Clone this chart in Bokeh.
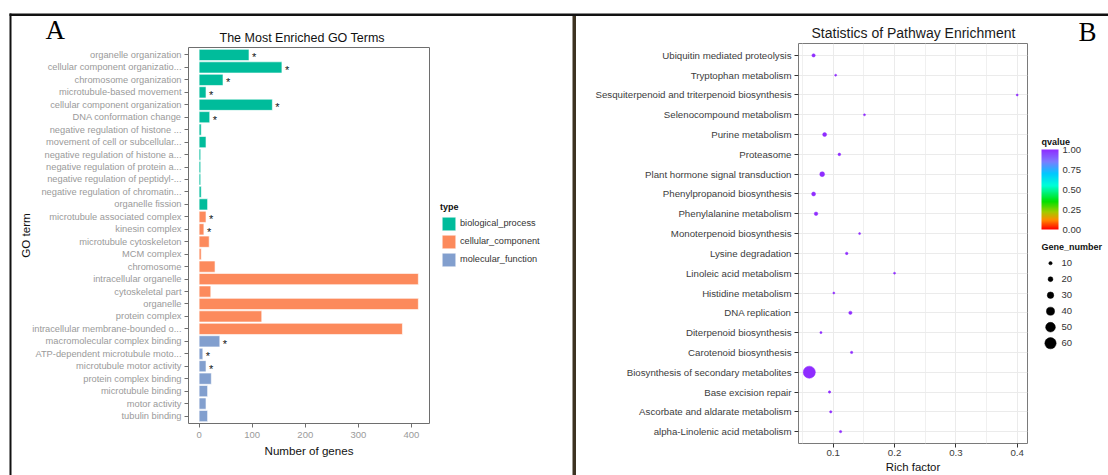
from bokeh.plotting import figure
from bokeh.models import (FactorRange, Range1d, Legend, LegendItem, ColumnDataSource,
                          LinearColorMapper, ColorBar, FixedTicker, PrintfTickFormatter)
from bokeh.embed import file_html
from bokeh.resources import INLINE
from bokeh.core.properties import value
import numpy as np

# ---------------- data: panel A ----------------
go_terms = [
    "organelle organization", "cellular component organizatio...", "chromosome organization",
    "microtubule-based movement", "cellular component organization", "DNA conformation change",
    "negative regulation of histone ...", "movement of cell or subcellular...",
    "negative regulation of histone a...", "negative regulation of protein a...",
    "negative regulation of peptidyl-...", "negative regulation of chromatin...",
    "organelle fission", "microtubule associated complex", "kinesin complex",
    "microtubule cytoskeleton", "MCM complex", "chromosome", "intracellular organelle",
    "cytoskeletal part", "organelle", "protein complex", "intracellular membrane-bounded o...",
    "macromolecular complex binding", "ATP-dependent microtubule moto...",
    "microtubule motor activity", "protein complex binding", "microtubule binding",
    "motor activity", "tubulin binding",
]
go_counts = [94, 156, 45, 13, 138, 20, 4, 13, 3, 3, 3, 4, 16,
             13, 9, 19, 4, 30, 413, 22, 413, 118, 383,
             39, 7, 13, 23, 16, 13, 16]
go_types = (["biological_process"] * 13 + ["cellular_component"] * 10 +
            ["molecular_function"] * 7)
go_starred = [True, True, True, True, True, True, False, False, False, False, False, False, False,
              True, True, False, False, False, False, False, False, False, False,
              True, True, True, False, False, False, False]
type_names = ["biological_process", "cellular_component", "molecular_function"]
type_colors = ["#00BC9B", "#FC8A5C", "#829FCE"]

# ---------------- data: panel B ----------------
pathways = [
    "Ubiquitin mediated proteolysis", "Tryptophan metabolism",
    "Sesquiterpenoid and triterpenoid biosynthesis", "Selenocompound metabolism",
    "Purine metabolism", "Proteasome", "Plant hormone signal transduction",
    "Phenylpropanoid biosynthesis", "Phenylalanine metabolism", "Monoterpenoid biosynthesis",
    "Lysine degradation", "Linoleic acid metabolism", "Histidine metabolism", "DNA replication",
    "Diterpenoid biosynthesis", "Carotenoid biosynthesis", "Biosynthesis of secondary metabolites",
    "Base excision repair", "Ascorbate and aldarate metabolism", "alpha-Linolenic acid metabolism",
]
rich_factor = [0.068, 0.104, 0.400, 0.151, 0.086, 0.110, 0.082, 0.068, 0.072, 0.143,
               0.122, 0.200, 0.101, 0.128, 0.080, 0.130, 0.061, 0.094, 0.096, 0.112]
gene_number = [10, 2, 2, 2, 14, 6, 20, 14, 12, 2, 5, 2, 2, 10, 3, 4, 65, 4, 4, 4]
qvalue = [1.0, 1.0, 1.0, 1.0, 1.0, 1.0, 1.0, 1.0, 1.0, 1.0,
          1.0, 1.0, 1.0, 1.0, 1.0, 1.0, 1.0, 1.0, 1.0, 1.0]
size_breaks = [10, 20, 30, 40, 50, 60]
q_ticks = [0.0, 0.25, 0.5, 0.75, 1.0]

FONT = "Liberation Sans"
W, H = 1108, 475


def dot_size(n):
    return 1.7 + 0.16 * n


# rainbow-like palette for qvalue
stops = [(0.0, "#FF0000"), (0.12, "#FF8C00"), (0.22, "#A0CC00"), (0.35, "#00E000"),
         (0.55, "#00FFD8"), (0.70, "#00C8FF"), (0.85, "#7C7CFF"), (1.0, "#8F2CFF")]


def _rgb(h):
    return np.array([int(h[i:i + 2], 16) for i in (1, 3, 5)], dtype=float)


palette = []
for t in np.linspace(0, 1, 256):
    for (a, ca), (b, cb) in zip(stops[:-1], stops[1:]):
        if a <= t <= b:
            f = (t - a) / (b - a)
            c = _rgb(ca) * (1 - f) + _rgb(cb) * f
            palette.append("#%02x%02x%02x" % tuple(int(round(v)) for v in c))
            break


def place(p, left):
    p.styles = {"position": "absolute", "left": "%dpx" % left, "top": "0px"}


# ================= Panel A =================
p1 = figure(width=572, height=H, output_backend="svg", toolbar_location=None,
            x_range=Range1d(-20, 434),
            y_range=FactorRange(factors=go_terms[::-1], range_padding=0.1,
                                range_padding_units="absolute"),
            min_border_left=188, min_border_right=143, min_border_top=47,
            min_border_bottom=52)
p1.title.text = "The Most Enriched GO Terms"
p1.title.align = "left"
p1.title.offset = 31
p1.title.text_font = FONT
p1.title.text_font_size = "12.5px"
p1.title.text_font_style = "normal"
p1.title.text_color = "#111111"
p1.title.standoff = 5

for tname, tcol in zip(type_names, type_colors):
    idx = [i for i, t in enumerate(go_types) if t == tname]
    src = ColumnDataSource(dict(y=[go_terms[i] for i in idx], x=[go_counts[i] for i in idx]))
    p1.hbar(y="y", right="x", left=0, height=0.9, source=src, fill_color=tcol,
            line_color="white", line_alpha=0.6, line_width=1)

star_idx = [i for i, s in enumerate(go_starred) if s]
star_src = ColumnDataSource(dict(x=[go_counts[i] for i in star_idx],
                                 y=[go_terms[i] for i in star_idx],
                                 t=["*"] * len(star_idx)))
p1.text(x="x", y="y", text="t", source=star_src, x_offset=3, y_offset=2.5,
        text_font=value(FONT), text_font_size="11px", text_baseline="middle",
        text_color="#111111")

p1.xgrid.visible = False
p1.ygrid.visible = False
p1.outline_line_color = "#6E6E6E"
p1.outline_line_width = 1
p1.xaxis.ticker = FixedTicker(ticks=[0, 100, 200, 300, 400])
p1.xaxis.axis_label = "Number of genes"
p1.yaxis.axis_label = "GO term"
for ax in (p1.xaxis, p1.yaxis):
    ax.axis_line_color = None
    ax.major_tick_line_color = "#6E6E6E"
    ax.major_tick_in = 0
    ax.major_tick_out = 4
    ax.minor_tick_line_color = None
    ax.major_label_text_font = FONT
    ax.major_label_text_color = "#9A9A9A"
    ax.axis_label_text_font = FONT
    ax.axis_label_text_font_style = "normal"
    ax.axis_label_text_color = "#111111"
    ax.axis_label_text_font_size = "11.6px"
p1.xaxis.major_label_text_font_size = "9.5px"
p1.yaxis.major_label_text_font_size = "9.3px"
p1.xaxis.major_label_standoff = 4
p1.yaxis.major_label_standoff = 3
p1.xaxis.axis_label_standoff = 3
p1.yaxis.axis_label_standoff = -3
place(p1, 0)

# ================= Panel B =================
p2 = figure(width=W - 572, height=H, output_backend="svg", toolbar_location=None,
            x_range=Range1d(0.0434, 0.4168),
            y_range=FactorRange(factors=pathways[::-1], range_padding=0.1,
                                range_padding_units="absolute"),
            min_border_left=226, min_border_right=81, min_border_top=43,
            min_border_bottom=30)
p2.title.text = "Statistics of Pathway Enrichment"
p2.title.align = "left"
p2.title.offset = 13
p2.title.text_font = FONT
p2.title.text_font_size = "14px"
p2.title.text_font_style = "normal"
p2.title.text_color = "#1A1A1A"
p2.title.standoff = 5

mapper = LinearColorMapper(palette=palette, low=0, high=1)
src2 = ColumnDataSource(dict(x=rich_factor, y=pathways, q=qvalue,
                             s=[dot_size(n) for n in gene_number]))
p2.scatter(x="x", y="y", size="s", source=src2,
           fill_color={"field": "q", "transform": mapper},
           line_color={"field": "q", "transform": mapper}, line_width=0.5)

p2.xaxis.ticker = FixedTicker(ticks=[0.1, 0.2, 0.3, 0.4],
                              minor_ticks=[0.05, 0.15, 0.25, 0.35])
p2.xgrid.grid_line_color = "#EBEBEB"
p2.xgrid.minor_grid_line_color = "#F0F0F0"
p2.ygrid.grid_line_color = "#EBEBEB"
p2.outline_line_color = "#7A7A7A"
p2.outline_line_width = 1
p2.xaxis.axis_label = "Rich factor"
for ax in (p2.xaxis, p2.yaxis):
    ax.axis_line_color = None
    ax.major_tick_line_color = "#333333"
    ax.major_tick_in = 0
    ax.major_tick_out = 4
    ax.minor_tick_line_color = None
    ax.major_label_text_font = FONT
    ax.major_label_text_color = "#3C3C3C"
    ax.axis_label_text_font = FONT
    ax.axis_label_text_font_style = "normal"
    ax.axis_label_text_color = "#111111"
    ax.axis_label_text_font_size = "11.4px"
p2.xaxis.major_label_text_font_size = "9.7px"
p2.yaxis.major_label_text_font_size = "9.7px"
p2.xaxis.major_label_standoff = 2
p2.yaxis.major_label_standoff = 3
p2.xaxis.axis_label_standoff = 2
place(p2, 572)

# ================= overlay: frame lines, panel letters, legends =================
ov = figure(width=W, height=H, output_backend="svg", toolbar_location=None,
            x_range=Range1d(0, W), y_range=Range1d(H, 0),
            x_axis_location=None, y_axis_location=None,
            min_border_left=0, min_border_right=0, min_border_top=0, min_border_bottom=0)
ov.grid.visible = False
ov.outline_line_color = None
ov.background_fill_color = None
ov.border_fill_color = None
place(ov, 0)

# frame lines of the composite figure
ov.quad(left=[9, 9], right=[W, 11], top=[13, 13], bottom=[15.5, H],
        fill_color="#111111", line_color=None)
ov.quad(left=[572], right=[575.5], top=[15.5], bottom=[H],
        fill_color="#3D3322", line_color=None)

# panel letters
ov.text(x=[45, 1078], y=[29.5, 31.7], text=["A", "B"], text_font=value("Liberation Serif"),
        text_font_size="27px", text_baseline="alphabetic", text_color="#000000")

# legend for GO term types: keys come from hidden proxy renderers styled like the bars
items = []
for tname, tcol in zip(type_names, type_colors):
    r = ov.hbar(y=[0], right=[0], left=0, height=0, fill_color=tcol,
                line_color="white", line_alpha=0.6, line_width=1, visible=False)
    items.append(LegendItem(label=tname, renderers=[r]))
leg = Legend(items=items, location=(440, H - 267.5), title="type",
             title_text_font=FONT, title_text_font_size="9px", title_text_font_style="bold",
             title_text_color="#111111", title_standoff=3,
             label_text_font=FONT, label_text_font_size="9.2px", label_text_color="#333333",
             glyph_width=17, glyph_height=17, label_height=17, spacing=1, label_standoff=3,
             padding=4, margin=0, border_line_color=None, background_fill_alpha=0,
             inactive_fill_alpha=0, click_policy="none")
ov.add_layout(leg, "center")

# qvalue colour bar
cb = ColorBar(color_mapper=mapper, location=(1041, H - 229), width=17, height=80, padding=0,
              ticker=FixedTicker(ticks=q_ticks), formatter=PrintfTickFormatter(format="%.2f"),
              major_label_text_font=FONT, major_label_text_font_size="9.5px",
              major_label_text_color="#333333", label_standoff=4,
              major_tick_line_color=None, bar_line_color=None, border_line_color=None,
              background_fill_alpha=0)
ov.add_layout(cb, "center")
ov.text(x=[1041, 1041], y=[141, 246.7], text=["qvalue", "Gene_number"], text_font=value(FONT),
        text_font_size="9px", text_font_style="bold", text_baseline="middle",
        text_color="#111111")

# Gene_number size legend
leg_y = [262.7 + 16 * i for i in range(len(size_breaks))]
ov.scatter(x=[1050] * len(size_breaks), y=leg_y, size=[dot_size(v) for v in size_breaks],
           fill_color="black", line_color="black", line_width=0.5)
ov.text(x=[1061] * len(size_breaks), y=leg_y, text=[str(v) for v in size_breaks],
        text_font=value(FONT), text_font_size="9.5px", text_baseline="middle",
        text_color="#333333")

open("out.html", "w").write(file_html([p1, p2, ov], INLINE))
